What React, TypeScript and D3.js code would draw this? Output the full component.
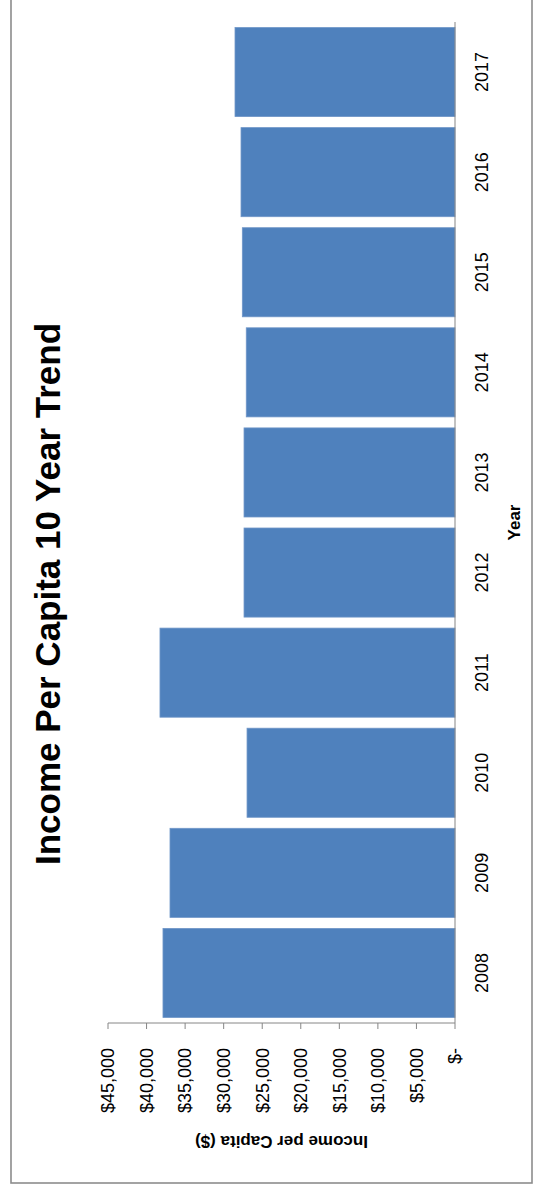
import React from "react";
import * as d3 from "d3";

const years = ["2008", "2009", "2010", "2011", "2012", "2013", "2014", "2015", "2016", "2017"];
const incomes = [37870, 36960, 26970, 38260, 27360, 27360, 27070, 27580, 27750, 28530];
const tickValues = [0, 5000, 10000, 15000, 20000, 25000, 30000, 35000, 40000, 45000];
const titleText = "Income Per Capita 10 Year Trend";
const xTitle = "Year";
const yTitle = "Income per Capita ($)";

const PAGE_W = 536;
const PAGE_H = 1187;
const FONT = "'Liberation Sans', Arial, sans-serif";

export default function App() {
  // Chart is drawn in an unrotated frame (u across, v down), then rotated -90deg.
  const uAxis = 164;
  const uEnd = 1165;
  const vBase = 455;
  const vTop = 108;

  const x = d3.scaleBand<string>().domain(years).range([uAxis, uEnd]).paddingInner(0.11).paddingOuter(0.055);
  const y = d3.scaleLinear().domain([0, 45000]).range([vBase, vTop]);
  const fmt = d3.format(",");
  const label = (d: number) => (d === 0 ? "$-" : "$" + fmt(d));
  const axisColor = "#868686";

  return (
    <svg
      width={PAGE_W}
      height={PAGE_H}
      style={{ position: "absolute", left: 0, top: 0, display: "block", background: "#fff" }}
    >
      <g transform={`translate(0,${PAGE_H}) rotate(-90)`} fontFamily={FONT}>
        {/* outer border */}
        <rect x={4} y={11} width={1210} height={521} fill="#fff" stroke="#8c8c8c" strokeWidth={1.6} />
        {/* title */}
        <text x={593} y={60} textAnchor="middle" fontSize={35} fontWeight="bold" fill="#000">
          {titleText}
        </text>
        {/* bars */}
        {years.map((yr, i) => (
          <rect
            key={yr}
            x={x(yr)}
            y={y(incomes[i])}
            width={x.bandwidth()}
            height={vBase - y(incomes[i])}
            fill="#4F81BD"
            stroke="#7096C8"
            strokeWidth={0.8}
          />
        ))}
        {/* value axis */}
        <line x1={uAxis} x2={uAxis} y1={vTop} y2={vBase} stroke={axisColor} strokeWidth={1} />
        {tickValues.map((t) => (
          <g key={t}>
            <line x1={uAxis - 6} x2={uAxis} y1={y(t)} y2={y(t)} stroke={axisColor} strokeWidth={1} />
            <text x={139} y={y(t)} dy="0.35em" textAnchor="end" fontSize={18} fill="#000">
              {label(t)}
            </text>
          </g>
        ))}
        {/* category axis */}
        <line x1={uAxis} x2={uEnd} y1={vBase} y2={vBase} stroke={axisColor} strokeWidth={1} />
        {years.map((yr) => (
          <text key={yr} x={(x(yr) as number) + x.bandwidth() / 2} y={488} textAnchor="middle" fontSize={18} fill="#000">
            {yr}
          </text>
        ))}
        <text x={(uAxis + uEnd) / 2} y={520} textAnchor="middle" fontSize={17} fontWeight="bold" fill="#000">
          {xTitle}
        </text>
        <text
          transform={`translate(51,${(vTop + vBase) / 2}) rotate(-90)`}
          textAnchor="middle"
          fontSize={17}
          fontWeight="bold"
          fill="#000"
        >
          {yTitle}
        </text>
      </g>
    </svg>
  );
}
